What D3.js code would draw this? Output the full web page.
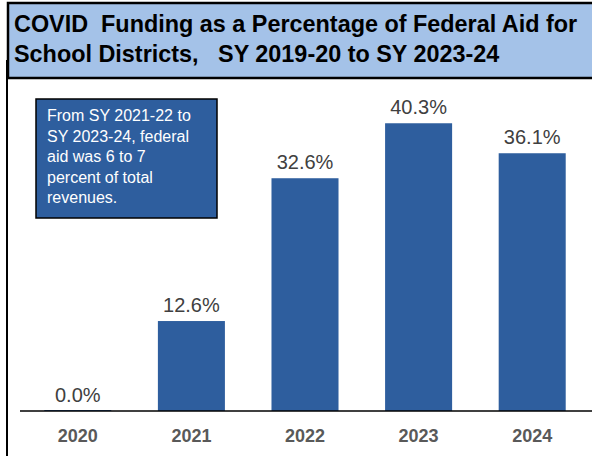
<!DOCTYPE html>
<html>
<head>
<meta charset="utf-8">
<script src="https://cdn.jsdelivr.net/npm/d3@7"></script>
<style>
  html, body { margin: 0; padding: 0; background: #fff; }
  svg { display: block; }
</style>
</head>
<body>
<script>
const years = ["2020", "2021", "2022", "2023", "2024"];
const values = [0.0, 12.6, 32.6, 40.3, 36.1];
const valueLabels = ["0.0%", "12.6%", "32.6%", "40.3%", "36.1%"];
const titleLines = ["COVID  Funding as a Percentage of Federal Aid for", "School Districts,   SY 2019-20 to SY 2023-24"];
const noteLines = ["From SY 2021-22 to", "SY 2023-24, federal", "aid was 6 to 7", "percent of total", "revenues."];

const W = 592, H = 456;
const barColor = "#2e5e9e";
const svg = d3.select("body").append("svg").attr("width", W).attr("height", H)
  .style("font-family", "'Liberation Sans', Arial, sans-serif");

// chart outer left border
svg.append("line").attr("x1", 7).attr("x2", 7).attr("y1", 60).attr("y2", H)
  .attr("stroke", "#000").attr("stroke-width", 2);

// title box
svg.append("rect").attr("x", 8).attr("y", 3).attr("width", W + 10).attr("height", 75)
  .attr("fill", "#a4c2e8").attr("stroke", "#000").attr("stroke-width", 2.5);
svg.append("g").selectAll("text").data(titleLines).join("text")
  .attr("x", 14).attr("y", (d, i) => 32 + i * 30)
  .attr("font-size", 23.4).attr("font-weight", "bold").attr("fill", "#000")
  .style("white-space", "pre").attr("xml:space", "preserve")
  .text(d => d);

const x = d3.scaleBand().domain(years).range([21, 589]).paddingInner(0.41).paddingOuter(0.205);
const y = d3.scaleLinear().domain([0, 50]).range([411, 54]);

// bars
svg.append("g").selectAll("rect").data(values).join("rect")
  .attr("x", (d, i) => x(years[i]))
  .attr("width", x.bandwidth())
  .attr("y", d => Math.min(y(d), y(0) - 1))
  .attr("height", d => Math.max(y(0) - y(d), 1))
  .attr("fill", barColor);

// value labels
svg.append("g").selectAll("text").data(values).join("text")
  .attr("x", (d, i) => x(years[i]) + x.bandwidth() / 2)
  .attr("y", d => y(d) - 9)
  .attr("text-anchor", "middle").attr("font-size", 20).attr("fill", "#404040")
  .text((d, i) => valueLabels[i]);

// x axis
const axis = svg.append("g").attr("transform", `translate(0,${y(0)})`)
  .call(d3.axisBottom(x).tickSize(0).tickPadding(18));
axis.select(".domain").attr("d", `M20,0H${W}`).attr("stroke", "#000").attr("stroke-width", 1.6);
axis.selectAll("text").attr("font-size", 18).attr("font-weight", "bold").attr("fill", "#595959")
  .attr("font-family", "'Liberation Sans', Arial, sans-serif");

// annotation box
svg.append("rect").attr("x", 36).attr("y", 99).attr("width", 181).attr("height", 119)
  .attr("fill", barColor).attr("stroke", "#000").attr("stroke-width", 1.5);
svg.append("g").selectAll("text").data(noteLines).join("text")
  .attr("x", 47).attr("y", (d, i) => 121 + i * 20.6)
  .attr("font-size", 16).attr("fill", "#fff")
  .text(d => d);
</script>
</body>
</html>
